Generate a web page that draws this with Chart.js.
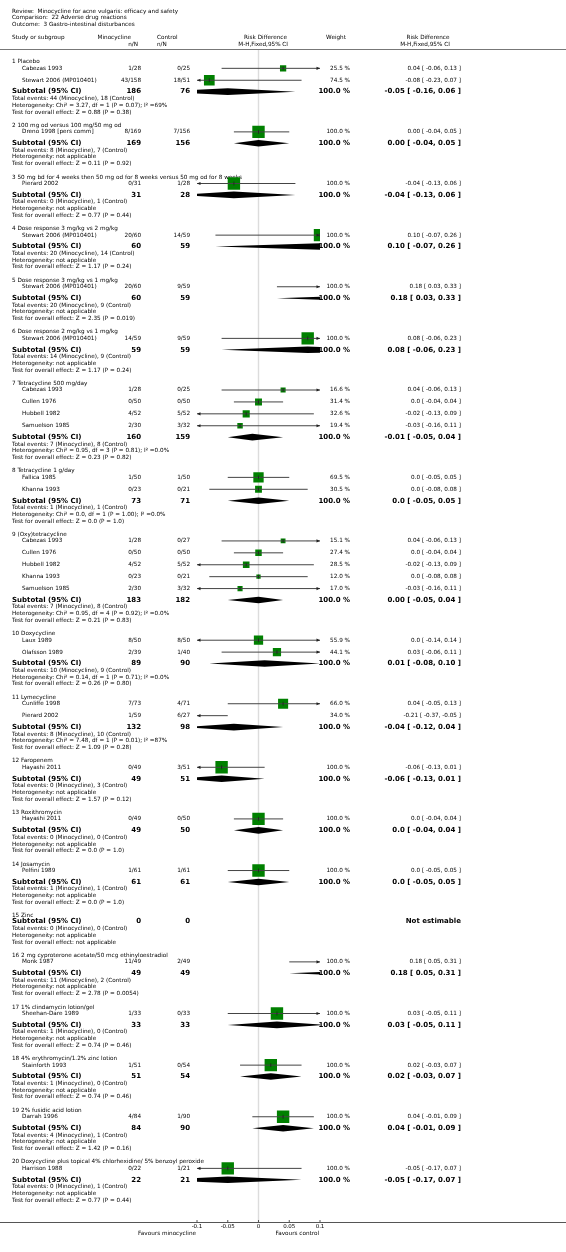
<!DOCTYPE html>
<html>
<head>
<meta charset="utf-8">
<script src="https://cdn.jsdelivr.net/npm/chart.js@4.4.0/dist/chart.umd.min.js"></script>
<style>
  html, body { margin: 0; padding: 0; background: #fff; }
  canvas { display: block; }
</style>
</head>
<body>
<canvas id="forest" width="566" height="1252"></canvas>
<script>
// Datos: subgrupos
const groupLabels = [
    '1 Placebo',
    '2 100 mg od versus 100 mg/50 mg od',
    '3 50 mg bd for 4 weeks then 50 mg od for 8 weeks versus 50 mg od for 8 weeks',
    '4 Dose response 3 mg/kg vs 2 mg/kg',
    '5 Dose response 3 mg/kg vs 1 mg/kg',
    '6 Dose response 2 mg/kg vs 1 mg/kg',
    '7 Tetracycline 500 mg/day',
    '8 Tetracycline 1 g/day',
    '9 (Oxy)tetracycline',
    '10 Doxycycline',
    '11 Lymecycline',
    '12 Faropenem',
    '13 Roxithromycin',
    '14 Josamycin',
    '15 Zinc',
    '16 2 mg cyproterone acetate/50 mcg ethinyloestradiol',
    '17 1% clindamycin lotion/gel',
    '18 4% erythromycin/1.2% zinc lotion',
    '19 2% fusidic acid lotion',
    '20 Doxycycline plus topical 4% chlorhexidine/ 5% benzoyl peroxide'
];

// Datos: estudios
const studyNames = [
    'Cabezas 1993', 'Stewart 2006 (MP010401)', 'Dreno 1998 [pers comm]', 'Pierard 2002',
    'Stewart 2006 (MP010401)', 'Stewart 2006 (MP010401)', 'Stewart 2006 (MP010401)',
    'Cabezas 1993', 'Cullen 1976', 'Hubbell 1982', 'Samuelson 1985',
    'Fallica 1985', 'Khanna 1993',
    'Cabezas 1993', 'Cullen 1976', 'Hubbell 1982', 'Khanna 1993', 'Samuelson 1985',
    'Laux 1989', 'Olafsson 1989', 'Cunliffe 1998', 'Pierard 2002',
    'Hayashi 2011', 'Hayashi 2011', 'Pelfini 1989', 'Monk 1987',
    'Sheehan-Dare 1989', 'Stainforth 1993', 'Darrah 1996', 'Harrison 1988'
];
const studyGroup  = [0, 0, 1, 2, 3, 4, 5, 6, 6, 6, 6, 7, 7, 8, 8, 8, 8, 8, 9, 9, 10, 10, 11, 12, 13, 15, 16, 17, 18, 19];
const minoEvents  = [1, 43, 8, 0, 20, 20, 14, 1, 0, 4, 2, 1, 0, 1, 0, 4, 0, 2, 8, 2, 7, 1, 0, 0, 1, 11, 1, 1, 4, 0];
const minoTotal   = [28, 158, 169, 31, 60, 60, 59, 28, 50, 52, 30, 50, 23, 28, 50, 52, 23, 30, 50, 39, 73, 59, 49, 49, 61, 49, 33, 51, 84, 22];
const ctrlEvents  = [0, 18, 7, 1, 14, 9, 9, 0, 0, 5, 3, 1, 0, 0, 0, 5, 0, 3, 8, 1, 4, 6, 3, 0, 1, 2, 0, 0, 1, 1];
const ctrlTotal   = [25, 51, 156, 28, 59, 59, 59, 25, 50, 52, 32, 50, 21, 27, 50, 52, 21, 32, 50, 40, 71, 27, 51, 50, 61, 49, 33, 54, 90, 21];
const studyWeight = [25.5, 74.5, 100, 100, 100, 100, 100, 16.6, 31.4, 32.6, 19.4, 69.5, 30.5,
                     15.1, 27.4, 28.5, 12.0, 17.0, 55.9, 44.1, 66.0, 34.0, 100, 100, 100, 100, 100, 100, 100, 100];
const studyRD   = ['0.04', '-0.08', '0.00', '-0.04', '0.10', '0.18', '0.08', '0.04', '0.0', '-0.02', '-0.03', '0.0', '0.0',
                   '0.04', '0.0', '-0.02', '0.0', '-0.03', '0.0', '0.03', '0.04', '-0.21', '-0.06', '0.0', '0.0', '0.18',
                   '0.03', '0.02', '0.04', '-0.05'];
const studyLow  = ['-0.06', '-0.23', '-0.04', '-0.13', '-0.07', '0.03', '-0.06', '-0.06', '-0.04', '-0.13', '-0.16', '-0.05', '-0.08',
                   '-0.06', '-0.04', '-0.13', '-0.08', '-0.16', '-0.14', '-0.06', '-0.05', '-0.37', '-0.13', '-0.04', '-0.05', '0.05',
                   '-0.05', '-0.03', '-0.01', '-0.17'];
const studyHigh = ['0.13', '0.07', '0.05', '0.06', '0.26', '0.33', '0.23', '0.13', '0.04', '0.09', '0.11', '0.05', '0.08',
                   '0.13', '0.04', '0.09', '0.08', '0.11', '0.14', '0.11', '0.13', '-0.05', '0.01', '0.04', '0.05', '0.31',
                   '0.11', '0.07', '0.09', '0.07'];

// Datos: subtotales
const subMinoTotal  = [186, 169, 31, 60, 60, 59, 160, 73, 183, 89, 132, 49, 49, 61, 0, 49, 33, 51, 84, 22];
const subCtrlTotal  = [76, 156, 28, 59, 59, 59, 159, 71, 182, 90, 98, 51, 50, 61, 0, 49, 33, 54, 90, 21];
const subMinoEvents = [44, 8, 0, 20, 20, 14, 7, 1, 7, 10, 8, 0, 0, 1, 0, 11, 1, 1, 4, 0];
const subCtrlEvents = [18, 7, 1, 14, 9, 9, 8, 1, 8, 9, 10, 3, 0, 1, 0, 2, 0, 0, 1, 1];
const subRD   = ['-0.05', '0.00', '-0.04', '0.10', '0.18', '0.08', '-0.01', '0.0', '0.00', '0.01', '-0.04', '-0.06', '0.0', '0.0', null, '0.18', '0.03', '0.02', '0.04', '-0.05'];
const subLow  = ['-0.16', '-0.04', '-0.13', '-0.07', '0.03', '-0.06', '-0.05', '-0.05', '-0.05', '-0.08', '-0.12', '-0.13', '-0.04', '-0.05', null, '0.05', '-0.05', '-0.03', '-0.01', '-0.17'];
const subHigh = ['0.06', '0.05', '0.06', '0.26', '0.33', '0.23', '0.04', '0.05', '0.04', '0.10', '0.04', '0.01', '0.04', '0.05', null, '0.31', '0.11', '0.07', '0.09', '0.07'];
const NA = 'not applicable';
const heterogeneity = [
    'Chi\u00b2 = 3.27, df = 1 (P = 0.07); I\u00b2 =69%', NA, NA, NA, NA, NA,
    'Chi\u00b2 = 0.95, df = 3 (P = 0.81); I\u00b2 =0.0%',
    'Chi\u00b2 = 0.0, df = 1 (P = 1.00); I\u00b2 =0.0%',
    'Chi\u00b2 = 0.95, df = 4 (P = 0.92); I\u00b2 =0.0%',
    'Chi\u00b2 = 0.14, df = 1 (P = 0.71); I\u00b2 =0.0%',
    'Chi\u00b2 = 7.48, df = 1 (P = 0.01); I\u00b2 =87%',
    NA, NA, NA, NA, NA, NA, NA, NA, NA
];
const overallEffect = [
    'Z = 0.88 (P = 0.38)', 'Z = 0.11 (P = 0.92)', 'Z = 0.77 (P = 0.44)', 'Z = 1.17 (P = 0.24)',
    'Z = 2.35 (P = 0.019)', 'Z = 1.17 (P = 0.24)', 'Z = 0.23 (P = 0.82)', 'Z = 0.0 (P = 1.0)',
    'Z = 0.21 (P = 0.83)', 'Z = 0.26 (P = 0.80)', 'Z = 1.09 (P = 0.28)', 'Z = 1.57 (P = 0.12)',
    'Z = 0.0 (P = 1.0)', 'Z = 0.0 (P = 1.0)', NA, 'Z = 2.78 (P = 0.0054)',
    'Z = 0.74 (P = 0.46)', 'Z = 0.74 (P = 0.46)', 'Z = 1.42 (P = 0.16)', 'Z = 0.77 (P = 0.44)'
];

// Eje
const tickValues = [-0.1, -0.05, 0, 0.05, 0.1];
const tickLabels = ['-0.1', '-0.05', '0', '0.05', '0.1'];

const FONT = '"DejaVu Sans", Verdana, sans-serif';
const GREEN = '#008000';

// Posiciones verticales de cada fila
const studyRows = [];
const groupRows = [];
let cursor = 53.5;
groupLabels.forEach((label, g) => {
    const header = cursor;
    let y = header + 6.5;
    let last = null;
    studyGroup.forEach((sg, i) => {
        if (sg === g) { studyRows[i] = y; last = y; y += 12; }
    });
    const sub = last === null ? header + 6 : last + 11.5;
    groupRows.push({ header: header, sub: sub });
    cursor = sub + 34;
});

// Líneas de intervalo (segmentos separados por huecos)
const ciData = [];
studyNames.forEach((n, i) => {
    ciData.push({ x: Number(studyLow[i]), y: studyRows[i] });
    ciData.push({ x: Number(studyHigh[i]), y: studyRows[i] });
    ciData.push({ x: null, y: null });
});
const squareData = studyNames.map((n, i) => ({ x: Number(studyRD[i]), y: studyRows[i] }));
const squareRadius = studyWeight.map(w => 12.4 * Math.sqrt(w / 100) / (2 * Math.SQRT1_2));

function txt(ctx, s, x, y, align, bold, size) {
    ctx.font = (bold ? 'bold ' : '') + size + 'px ' + FONT;
    ctx.textAlign = align;
    ctx.textBaseline = 'middle';
    ctx.fillText(s, x, y);
}

const forestPlugin = {
    id: 'forestPlugin',
    beforeDatasetsDraw(chart) {
        const ctx = chart.ctx;
        const xs = chart.scales.x, ys = chart.scales.y;
        const area = chart.chartArea;
        const W = chart.width;
        ctx.save();
        ctx.fillStyle = '#000';

        // Encabezado
        txt(ctx, 'Review:  Minocycline for acne vulgaris: efficacy and safety', 12, 11.5, 'left', false, 5.7);
        txt(ctx, 'Comparison:  22 Adverse drug reactions', 12, 17.8, 'left', false, 5.7);
        txt(ctx, 'Outcome:  3 Gastro-intestinal disturbances', 12, 24.3, 'left', false, 5.7);
        txt(ctx, 'Study or subgroup', 12, 37.8, 'left', false, 5.7);
        txt(ctx, 'Minocycline', 131, 37.8, 'right', false, 5.7);
        txt(ctx, 'n/N', 138, 44.3, 'right', false, 5.7);
        txt(ctx, 'Control', 157, 37.8, 'left', false, 5.7);
        txt(ctx, 'n/N', 157, 44.3, 'left', false, 5.7);
        txt(ctx, 'Risk Difference', 287, 37.8, 'right', false, 5.7);
        txt(ctx, 'M-H,Fixed,95% CI', 288, 44.3, 'right', false, 5.7);
        txt(ctx, 'Weight', 336, 37.8, 'center', false, 5.7);
        txt(ctx, 'Risk Difference', 428, 37.8, 'center', false, 5.7);
        txt(ctx, 'M-H,Fixed,95% CI', 425, 44.3, 'center', false, 5.7);

        ctx.strokeStyle = '#777';
        ctx.lineWidth = 1;
        ctx.beginPath();
        ctx.moveTo(0, 49.5); ctx.lineTo(W, 49.5);
        ctx.stroke();

        // Línea de no efecto
        const x0 = xs.getPixelForValue(0);
        ctx.strokeStyle = '#dcdcdc';
        ctx.lineWidth = 1.4;
        ctx.beginPath();
        ctx.moveTo(x0, 50); ctx.lineTo(x0, area.bottom);
        ctx.stroke();

        // Filas de estudios
        studyNames.forEach((name, i) => {
            const py = ys.getPixelForValue(studyRows[i]);
            txt(ctx, name, 22, py, 'left', false, 5.7);
            txt(ctx, minoEvents[i] + '/' + minoTotal[i], 141, py, 'right', false, 5.7);
            txt(ctx, ctrlEvents[i] + '/' + ctrlTotal[i], 190, py, 'right', false, 5.7);
            txt(ctx, studyWeight[i].toFixed(1) + ' %', 350, py, 'right', false, 5.7);
            txt(ctx, studyRD[i] + ' [ ' + studyLow[i] + ', ' + studyHigh[i] + ' ]', 461, py, 'right', false, 5.7);
        });

        // Subgrupos y subtotales
        groupLabels.forEach((label, g) => {
            const ph = ys.getPixelForValue(groupRows[g].header);
            const ps = ys.getPixelForValue(groupRows[g].sub);
            txt(ctx, label, 12, ph, 'left', false, 5.7);
            txt(ctx, 'Subtotal (95% CI)', 12, ps, 'left', true, 7);
            txt(ctx, String(subMinoTotal[g]), 141, ps, 'right', true, 7);
            txt(ctx, String(subCtrlTotal[g]), 190, ps, 'right', true, 7);
            if (subRD[g] !== null) {
                txt(ctx, '100.0 %', 350, ps, 'right', true, 7);
                txt(ctx, subRD[g] + ' [ ' + subLow[g] + ', ' + subHigh[g] + ' ]', 461, ps, 'right', true, 7);
            } else {
                txt(ctx, 'Not estimable', 461, ps, 'right', true, 7);
            }
            txt(ctx, 'Total events: ' + subMinoEvents[g] + ' (Minocycline), ' + subCtrlEvents[g] + ' (Control)', 12, ps + 7, 'left', false, 5.7);
            txt(ctx, 'Heterogeneity: ' + heterogeneity[g], 12, ps + 13.7, 'left', false, 5.7);
            txt(ctx, 'Test for overall effect: ' + overallEffect[g], 12, ps + 20.4, 'left', false, 5.7);
        });
        ctx.restore();
    },
    afterDatasetsDraw(chart) {
        const ctx = chart.ctx;
        const xs = chart.scales.x, ys = chart.scales.y;
        const area = chart.chartArea;
        const W = chart.width;
        ctx.save();
        ctx.beginPath();
        ctx.rect(area.left, area.top, area.right - area.left, area.bottom - area.top);
        ctx.clip();

        // Marcas verticales en los cuadrados
        ctx.strokeStyle = '#222';
        ctx.lineWidth = 0.8;
        studyNames.forEach((n, i) => {
            const px = xs.getPixelForValue(Number(studyRD[i]));
            const py = ys.getPixelForValue(studyRows[i]);
            ctx.beginPath();
            ctx.moveTo(px, py - 2); ctx.lineTo(px, py + 2);
            ctx.stroke();
        });

        // Diamantes
        ctx.fillStyle = '#000';
        groupLabels.forEach((label, g) => {
            if (subRD[g] === null) return;
            const ps = ys.getPixelForValue(groupRows[g].sub);
            const pe = xs.getPixelForValue(Number(subRD[g]));
            ctx.beginPath();
            ctx.moveTo(xs.getPixelForValue(Number(subLow[g])), ps);
            ctx.lineTo(pe, ps - 3.3);
            ctx.lineTo(xs.getPixelForValue(Number(subHigh[g])), ps);
            ctx.lineTo(pe, ps + 3.3);
            ctx.closePath();
            ctx.fill();
        });
        ctx.restore();

        // Flechas cuando el intervalo sale del eje
        ctx.save();
        ctx.fillStyle = '#222';
        studyNames.forEach((n, i) => {
            const py = ys.getPixelForValue(studyRows[i]);
            if (Number(studyLow[i]) < xs.min) {
                ctx.beginPath();
                ctx.moveTo(area.left, py);
                ctx.lineTo(area.left + 3.5, py - 1.6);
                ctx.lineTo(area.left + 3.5, py + 1.6);
                ctx.closePath(); ctx.fill();
            }
            if (Number(studyHigh[i]) > xs.max) {
                ctx.beginPath();
                ctx.moveTo(area.right, py);
                ctx.lineTo(area.right - 3.5, py - 1.6);
                ctx.lineTo(area.right - 3.5, py + 1.6);
                ctx.closePath(); ctx.fill();
            }
        });

        // Eje x
        const axisY = area.bottom;
        ctx.strokeStyle = '#555';
        ctx.lineWidth = 1;
        ctx.beginPath();
        ctx.moveTo(0, axisY + 0.5); ctx.lineTo(W, axisY + 0.5);
        ctx.stroke();
        ctx.fillStyle = '#000';
        tickValues.forEach((v, k) => {
            const px = xs.getPixelForValue(v);
            ctx.beginPath();
            ctx.moveTo(px, axisY - 2); ctx.lineTo(px, axisY);
            ctx.stroke();
            txt(ctx, tickLabels[k], px, axisY + 5, 'center', false, 5.5);
        });
        txt(ctx, 'Favours minocycline', area.left - 1, axisY + 11.5, 'right', false, 5.7);
        txt(ctx, 'Favours control', area.right - 1, axisY + 11.5, 'right', false, 5.7);
        ctx.restore();
    }
};

const chart = new Chart(document.getElementById('forest').getContext('2d'), {
    type: 'scatter',
    data: {
        datasets: [{
            label: 'IC 95%',
            data: ciData,
            showLine: true,
            spanGaps: false,
            borderColor: '#444',
            borderWidth: 1,
            pointRadius: 0,
            clip: 0
        }, {
            label: 'Estimación',
            data: squareData,
            pointStyle: 'rect',
            pointRadius: squareRadius,
            backgroundColor: GREEN,
            borderWidth: 0,
            clip: 0
        }]
    },
    options: {
        responsive: false,
        animation: false,
        events: [],
        layout: { padding: { left: 197, right: 246, top: 0, bottom: 30 } },
        scales: {
            x: { type: 'linear', min: -0.1, max: 0.1, display: false },
            y: { type: 'linear', min: 0, max: 1222, reverse: true, display: false }
        },
        plugins: {
            legend: { display: false },
            tooltip: { enabled: false }
        }
    },
    plugins: [forestPlugin]
});
</script>
</body>
</html>
